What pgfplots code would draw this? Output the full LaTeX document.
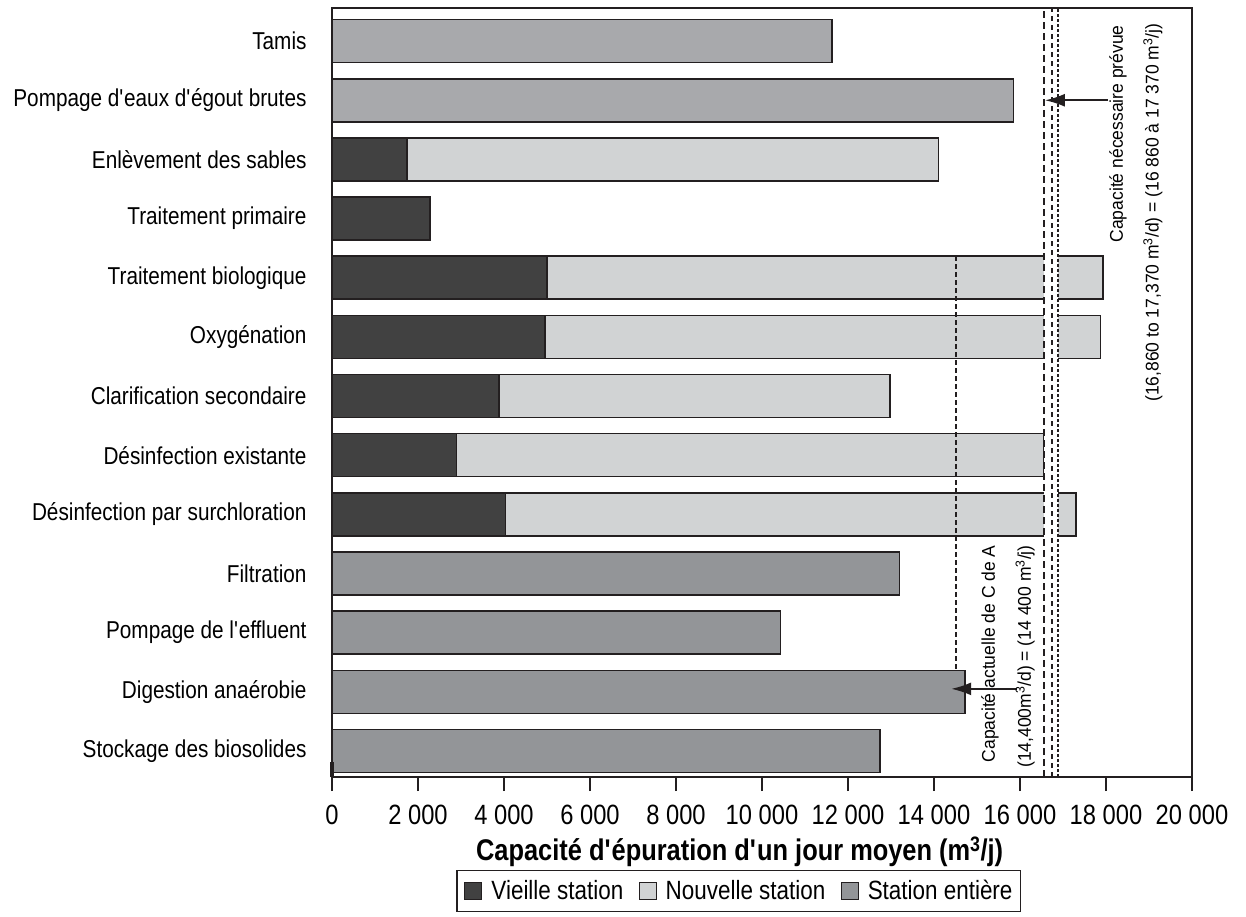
\documentclass[border=0pt]{standalone}
\usepackage{fontspec}
\setmainfont[FakeStretch=0.85]{Liberation Sans}
\newfontfamily\annfont[FakeStretch=0.95]{Liberation Sans}
\usepackage{pgfplots}
\pgfplotsset{compat=1.18}
\usetikzlibrary{arrows.meta}
\definecolor{oldc}{HTML}{414141}
\definecolor{newc}{HTML}{D1D3D4}
\definecolor{entA}{HTML}{A8A9AC}
\definecolor{entB}{HTML}{939598}
\definecolor{edge}{HTML}{231F20}
\newcommand{\q}{\textquotesingle}
\begin{document}
\begin{tikzpicture}
\begin{axis}[
  scale only axis, width=860bp, height=769bp,
  xmin=0, xmax=20000, ymin=-0.44, ymax=12.56,
  axis on top, clip=false,
  axis line style={line width=1.6bp, edge},
  tick align=outside, major tick length=14bp,
  xtick pos=lower, scaled x ticks=false,
  xtick={0,2000,4000,6000,8000,10000,12000,14000,16000,18000,20000},
  xticklabels={0,2 000,4 000,6 000,8 000,10 000,12 000,14 000,16 000,18 000,20 000},
  xtick style={line width=1.4bp, edge},
  xticklabel style={font=\fontsize{28}{33}\selectfont, yshift=-10bp},
  ytick={0,1,2,3,4,5,6,7,8,9,10,11,12},
  yticklabels={Stockage des biosolides,Digestion anaérobie,Pompage de l\q effluent,Filtration,Désinfection par surchloration,Désinfection existante,Clarification secondaire,Oxygénation,Traitement biologique,Traitement primaire,Enlèvement des sables,Pompage d\q eaux d\q égout brutes,Tamis},
  ytick style={draw=none},
  yticklabel style={font=\fontsize{24.5}{29}\selectfont, xshift=-8bp},
  xlabel={\bfseries Capacité d\q épuration d\q un jour moyen (m\textsuperscript{3}/j)},
  xlabel style={font=\fontsize{30}{35}\selectfont, at={(rel axis cs:0.474,-0.0975)}, anchor=center},
  legend columns=3,
  legend style={at={(rel axis cs:0.473,-0.148)}, anchor=center, draw=edge, line width=1.4bp,
    font=\fontsize{26.5}{31}\selectfont, inner xsep=6bp, inner ysep=8bp,
    /tikz/every even column/.append style={column sep=12bp}},
  legend image code/.code={\draw[#1, line width=0.8bp] (0bp,-8.5bp) rectangle (17bp,8.5bp); \path (-1bp,0bp) (24bp,0bp);},
]
% Nouvelle station (totals, drawn first)
\addplot[xbar, bar width=43bp, bar shift=0pt, fill=newc, draw=edge, line width=1.5bp, forget plot]
  coordinates {(14100,10) (17930,8) (17870,7) (12980,6) (16550,5) (17300,4)};
% Vieille station
\addplot[xbar, bar width=43bp, bar shift=0pt, fill=oldc, draw=edge, line width=1.5bp, forget plot]
  coordinates {(1750,10) (2280,9) (5000,8) (4950,7) (3880,6) (2890,5) (4040,4)};
% Station entiere
\addplot[xbar, bar width=43bp, bar shift=0pt, fill=entA, draw=edge, line width=1.5bp, forget plot]
  coordinates {(11630,12) (15850,11)};
\addplot[xbar, bar width=43bp, bar shift=0pt, fill=entB, draw=edge, line width=1.5bp, forget plot]
  coordinates {(13200,3) (10430,2) (14720,1) (12740,0)};

% white band and capacity lines
\fill[white] (axis cs:16560,-0.44) rectangle (axis cs:16880,12.56);
\draw[edge, line width=1.9bp, dash pattern=on 7bp off 4bp] (axis cs:16560,-0.44) -- (axis cs:16560,12.56);
\draw[edge, line width=1.9bp, dash pattern=on 5bp off 4bp] (axis cs:16740,-0.44) -- (axis cs:16740,12.56);
\draw[edge, line width=1.9bp, dash pattern=on 3bp off 2bp] (axis cs:16880,-0.44) -- (axis cs:16880,12.56);
\draw[edge, line width=2bp, dash pattern=on 5bp off 3bp] (axis cs:14500,8.365) -- (axis cs:14500,1.365);

% arrows
\draw[edge, line width=1.8bp, -{Latex[length=20bp,width=13bp]}] (axis cs:18050,11) -- (axis cs:16580,11);
\draw[edge, line width=1.8bp, -{Latex[length=20bp,width=13bp]}] (axis cs:15930,1.05) -- (axis cs:14400,1.05);

% annotations
\node[rotate=90, anchor=east, inner sep=0pt, font=\annfont\fontsize{18.5}{22}\selectfont] at (axis cs:18280,12.27) {Capacité nécessaire prévue};
\node[rotate=90, anchor=east, inner sep=0pt, font=\annfont\fontsize{18.5}{22}\selectfont] at (axis cs:19090,12.30) {(16,860 to 17,370 m\textsuperscript{3}/d) = (16 860 à 17 370 m\textsuperscript{3}/j)};
\node[rotate=90, anchor=east, inner sep=0pt, font=\annfont\fontsize{18.5}{22}\selectfont] at (axis cs:15300,3.48) {Capacité actuelle de C de A};
\node[rotate=90, anchor=east, inner sep=0pt, font=\annfont\fontsize{18.5}{22}\selectfont] at (axis cs:16120,3.48) {(14,400m\textsuperscript{3}/d) = (14 400 m\textsuperscript{3}/j)};

% thick zero tick
\draw[edge, line width=3.5bp] (axis cs:0,-0.44) -- ++(0,-11bp);

\addlegendimage{fill=oldc, draw=edge}
\addlegendentry{Vieille station}
\addlegendimage{fill=newc, draw=edge}
\addlegendentry{Nouvelle station}
\addlegendimage{fill=entB, draw=edge}
\addlegendentry{Station entière}
\end{axis}
\pgfresetboundingbox
\path[use as bounding box] (-332bp,-140bp) rectangle (914bp,777bp);
\end{tikzpicture}
\end{document}
